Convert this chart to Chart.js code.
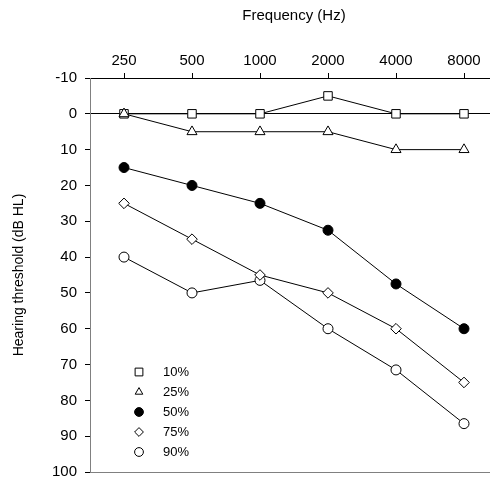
<!DOCTYPE html>
<html>
<head>
<meta charset="utf-8">
<script src="https://cdn.jsdelivr.net/npm/chart.js@4"></script>
<style>
  html, body { margin: 0; padding: 0; background: #fff; overflow: hidden; }
</style>
</head>
<body>
<canvas id="myChart" width="498" height="495"></canvas>
<script>
// audiogram percentiles, dB HL per frequency
const freqs = ['250', '500', '1000', '2000', '4000', '8000'];
const p10 = [0, 0, 0, -5, 0, 0];
const p25 = [0, 5, 5, 5, 10, 10];
const p50 = [15, 20, 25, 32.5, 47.5, 60];
const p75 = [25, 35, 45, 50, 60, 75];
const p90 = [40, 50, 46.5, 60, 71.5, 86.5];
const labels = ['10%', '25%', '50%', '75%', '90%'];

const FAMILY = 'Liberation Sans, Arial, sans-serif';
const FONT = { family: FAMILY, size: 15 };

function series(label, data, style, fill, radius, order) {
	return {
		label: label,
		data: data,
		borderColor: '#000',
		borderWidth: 1,
		tension: 0,
		pointStyle: style,
		pointRadius: radius,
		pointHoverRadius: radius,
		pointBackgroundColor: fill,
		pointBorderColor: '#000',
		pointBorderWidth: 1,
		order: order,
		clip: false
	};
}

const datasets = [
	series(labels[0], p10, 'rect', '#fff', 6, 1),
	series(labels[1], p25, 'triangle', '#fff', 5.8, 0),
	series(labels[2], p50, 'circle', '#000', 5, 0),
	series(labels[3], p75, 'rectRot', '#fff', 5.3, 0),
	series(labels[4], p90, 'circle', '#fff', 5, 0)
];

// bottom frame line plus the in-plot legend
const extras = {
	id: 'extras',
	afterDraw(chart) {
		const ctx = chart.ctx;
		const a = chart.chartArea;
		ctx.save();
		ctx.strokeStyle = '#808080';
		ctx.lineWidth = 1;
		ctx.beginPath();
		ctx.moveTo(a.left, a.bottom + 0.5);
		ctx.lineTo(a.right, a.bottom + 0.5);
		ctx.stroke();

		ctx.font = '13px ' + FAMILY;
		ctx.textBaseline = 'middle';
		datasets.forEach(function (ds, i) {
			const y = 372 + i * 20;
			const x = a.left + 49;
			ctx.fillStyle = ds.pointBackgroundColor;
			ctx.strokeStyle = '#000';
			ctx.lineWidth = 1;
			Chart.helpers.drawPoint(ctx, { pointStyle: ds.pointStyle, radius: ds.pointStyle === 'rect' ? 5.5 : 4.4, rotation: 0, borderWidth: 1 }, x, y);
			ctx.fillStyle = '#000';
			ctx.fillText(ds.label, a.left + 73, y);
		});
		ctx.restore();
	}
};

var ctx = document.getElementById('myChart').getContext('2d');
var chart = new Chart(ctx, {
	type: 'line',
	data: { labels: freqs, datasets: datasets },
	plugins: [extras],
	options: {
		responsive: false,
		animation: false,
		layout: { autoPadding: false, padding: { left: 0, right: 0, top: 0, bottom: 23 } },
		plugins: { legend: { display: false }, tooltip: { enabled: false } },
		scales: {
			x: {
				type: 'category',
				position: 'top',
				offset: true,
				afterFit: function (s) { s.height = 78; },
				grid: { drawOnChartArea: false, color: '#000', tickLength: 5, offset: false },
				border: { color: '#000', width: 1 },
				ticks: { color: '#000', font: FONT, padding: 3, maxRotation: 0 },
				title: { display: true, text: 'Frequency (Hz)', color: '#000', font: FONT, padding: { top: 7, bottom: 0 } }
			},
			y: {
				reverse: true,
				min: -10,
				max: 100,
				afterFit: function (s) { s.width = 90; },
				grid: {
					color: function (c) { return c.tick && c.tick.value === 0 ? '#000' : 'rgba(0,0,0,0)'; },
					tickColor: '#000',
					tickLength: 5
				},
				border: { color: '#808080', width: 1 },
				ticks: { stepSize: 10, color: '#000', font: FONT, padding: 8 },
				title: { display: true, text: 'Hearing threshold (dB HL)', color: '#000', font: { family: FAMILY, size: 14 }, padding: { top: 11, bottom: 0 } }
			}
		}
	}
});
</script>
</body>
</html>
